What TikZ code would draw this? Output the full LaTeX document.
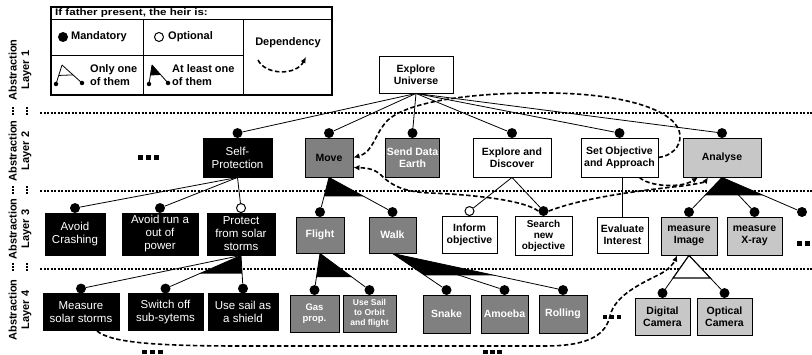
\documentclass[tikz,border=0pt]{standalone}
\usepackage{fontspec}
\setmainfont{Liberation Sans}
\usepackage{graphicx}
\usetikzlibrary{calc,arrows.meta}
\definecolor{darkfill}{gray}{0.50}
\definecolor{lightfill}{gray}{0.78}
\begin{document}
\begin{tikzpicture}[x=1pt,y=-1pt,
  nbox/.style={draw, line width=0.9pt, align=center, inner sep=1pt},
  wbox/.style={nbox, fill=white, font=\bfseries\fontsize{10.5}{12}\selectfont},
  dbox/.style={nbox, fill=darkfill, text=white, font=\bfseries\fontsize{10.5}{12}\selectfont},
  lbox/.style={nbox, fill=lightfill, text=black, font=\bfseries\fontsize{10.5}{12}\selectfont},
  bbox/.style={nbox, fill=black, text=white, font=\fontsize{11.5}{13}\selectfont},
  man/.style={circle, fill=black, inner sep=0pt, minimum size=10pt},
  opt/.style={circle, draw, fill=white, line width=1pt, inner sep=0pt, minimum size=9pt},
  tinydot/.style={circle, fill=black, inner sep=0pt, minimum size=4.5pt},
  link/.style={line width=0.8pt},
  dep/.style={line width=1.6pt, dash pattern=on 4.5pt off 2.5pt, -{Latex[length=6pt,width=5.5pt]}},
  layersep/.style={line width=2.2pt, dash pattern=on 2.2pt off 1.3pt},
  lgd/.style={font=\bfseries\fontsize{11}{13}\selectfont, inner sep=0pt},
  layerlabel/.style={rotate=90, align=center, font=\bfseries\fontsize{11}{12.5}\selectfont, inner sep=0pt},
]
\useasboundingbox (0,0) rectangle (812,355);
\fill[white] (0,0) rectangle (812,355);

% ---------- legend ----------
\draw[line width=1.1pt] (51,7) rectangle (332,95);
\draw[line width=1pt] (51,20) -- (332,20) (143,20) -- (143,95) (243,20) -- (243,95) (51,56) -- (243,56);
\node[anchor=west, font=\bfseries\fontsize{9.5}{11}\selectfont, inner sep=0pt] (lghead) at (55,13.5) {\scalebox{1.22}[1]{If father present, the heir is:}};
\node[man] (lgman) at (63,37) {};
\node[lgd, anchor=west] (lgmantxt) at (71,37) {Mandatory};
\node[opt] (lgopt) at (159,37) {};
\node[lgd, anchor=west] (lgopttxt) at (168,37) {Optional};
\node[lgd] (lgdep) at (288,43) {Dependency};
\coordinate (lgdepa) at (258,60);
\coordinate (lgdepb) at (306,57);
\draw[dep] (lgdepa) .. controls (265,75) and (296,76) .. (lgdepb);

% only one of them
\coordinate (lgonetop) at (62,65);
\node[tinydot] (lgonel) at (56,84) {};
\node[tinydot] (lgoner) at (82,83) {};
\draw[link] (lgonetop) -- (lgonel.center) (lgonetop) -- (lgoner.center);
\draw[link] ($(lgonetop)!0.55!(lgonel)$) -- ($(lgonetop)!0.55!(lgoner)$);
\node[lgd, anchor=west, align=left] (lgonetxt) at (90,75) {Only one\\of them};

% at least one of them
\coordinate (lgalotop) at (152,65);
\node[tinydot] (lgalol) at (149,84) {};
\node[tinydot] (lgalor) at (168,83) {};
\draw[link] (lgalotop) -- (lgalol.center) (lgalotop) -- (lgalor.center);
\fill (lgalotop) -- ($(lgalotop)!0.55!(lgalol)$) -- ($(lgalotop)!0.55!(lgalor)$) -- cycle;
\node[lgd, anchor=west, align=left] (lgalotxt) at (172,75) {At least one\\of them};

% ---------- layer labels and separators ----------
\node[layerlabel] (lab1) at (20,70) {Abstraction\\Layer 1};
\node[layerlabel] (lab2) at (20,151) {Abstraction\\Layer 2};
\node[layerlabel] (lab3) at (20,229) {Abstraction\\Layer 3};
\node[layerlabel] (lab4) at (20,310) {Abstraction\\Layer 4};
\foreach \yy in {111,190,267}{
  \draw[line width=1.6pt, dash pattern=on 1.6pt off 1.6pt] (13,\yy-4) -- (13,\yy+5);
  \draw[line width=1.6pt, dash pattern=on 1.6pt off 1.6pt] (27,\yy-4) -- (27,\yy+5);
}
\foreach \yy in {113,191,269}
  \draw[layersep] (40,\yy) -- (812,\yy);

% ---------- layer 1 ----------
\node[wbox, minimum width=74pt, minimum height=37pt] (eu) at (416,74.5) {Explore\\Universe};

% ---------- layer 2 ----------
\node[bbox, minimum width=69pt, minimum height=39pt] (selfp) at (237.5,157.5) {Self-\\Protection};
\node[dbox, text=black, minimum width=48pt, minimum height=39pt] (move) at (329,157.5) {Move};
\node[dbox, minimum width=53pt, minimum height=39pt] (send) at (412.5,157.5) {Send Data\\Earth};
\node[wbox, minimum width=78pt, minimum height=39pt] (explore) at (512,157.5) {Explore and\\Discover};
\node[wbox, minimum width=77pt, minimum height=39pt] (setobj) at (619.5,157.5) {Set Objective\\and Approach};
\node[lbox, minimum width=78pt, minimum height=39pt] (analyse) at (722,157.5) {Analyse};

% ---------- layer 3 ----------
\node[bbox, minimum width=60pt, minimum height=42pt] (avoidc) at (75,234) {Avoid\\Crashing};
\node[bbox, minimum width=76pt, minimum height=42pt] (avoidr) at (160,234) {Avoid run a\\out of\\power};
\node[bbox, minimum width=68pt, minimum height=42pt] (protect) at (241,234) {Protect\\from solar\\storms};
\node[dbox, minimum width=48pt, minimum height=36pt] (flight) at (320,235) {Flight};
\node[dbox, minimum width=47pt, minimum height=36pt] (walk) at (392.5,235) {Walk};
\node[wbox, minimum width=55pt, minimum height=37pt] (inform) at (469.5,234.5) {Inform\\objective};
\node[wbox, minimum width=57pt, minimum height=39pt, font=\bfseries\fontsize{10}{11}\selectfont] (search) at (543.5,235.5) {Search\\new\\objective};
\node[wbox, minimum width=51pt, minimum height=36pt] (evalint) at (622.5,235) {Evaluate\\Interest};
\node[lbox, minimum width=56pt, minimum height=38pt] (mimage) at (689,236) {measure\\Image};
\node[lbox, minimum width=55pt, minimum height=38pt] (xray) at (754.5,236) {measure\\X-ray};

% ---------- layer 4 ----------
\node[bbox, minimum width=76pt, minimum height=37pt] (meas) at (81,312) {Measure\\solar storms};
\node[bbox, minimum width=75pt, minimum height=37pt] (switch) at (165.5,312) {Switch off\\sub-sytems};
\node[bbox, minimum width=70pt, minimum height=37pt] (usesail) at (243,312) {Use sail as\\a shield};
\node[dbox, minimum width=49pt, minimum height=37pt, font=\bfseries\fontsize{9.5}{11}\selectfont] (gas) at (314.5,313.5) {Gas\\prop.};
\node[dbox, minimum width=53pt, minimum height=37pt, font=\bfseries\fontsize{8.5}{10}\selectfont] (orbit) at (369.5,313.5) {Use Sail\\to Orbit\\and flight};
\node[dbox, minimum width=47pt, minimum height=38pt] (snake) at (446.5,314) {Snake};
\node[dbox, minimum width=47pt, minimum height=38pt] (amoeba) at (504.5,314) {Amoeba};
\node[dbox, minimum width=48pt, minimum height=38pt] (rolling) at (563,314) {Rolling};
\node[lbox, minimum width=55pt, minimum height=37pt] (digital) at (662.5,316.5) {Digital\\Camera};
\node[lbox, minimum width=55pt, minimum height=37pt] (optical) at (724.5,316.5) {Optical\\Camera};

% ---------- feature markers ----------
\foreach \b in {selfp,move,send,explore,setobj,analyse,avoidc,avoidr,flight,walk,search,mimage,xray,meas,switch,usesail,gas,orbit,snake,amoeba,rolling,digital,optical}
  \node[man] (c-\b) at ([yshift=4.5pt]\b.north) {};
\node[opt] (c-protect) at ([yshift=4.5pt]protect.north) {};
\node[opt] (c-inform) at ([yshift=4.5pt]inform.north) {};
\node[man] (c-extra) at (802,212) {};

% ---------- decomposition links ----------
\foreach \c in {selfp,move,send,explore,setobj,analyse}
  \draw[link] (eu.south) -- (c-\c);
\foreach \c in {avoidc,avoidr,protect}
  \draw[link] (selfp.south) -- (c-\c);
\foreach \c in {flight,walk}
  \draw[link] (move.south) -- (c-\c);
\foreach \c in {inform,search}
  \draw[link] (explore.south) -- (c-\c);
\draw[link] (setobj.south -| evalint.north) -- (evalint.north);
\foreach \c in {mimage,xray,extra}
  \draw[link] (analyse.south) -- (c-\c);
\foreach \c in {meas,switch,usesail}
  \draw[link] (protect.south) -- (c-\c);
\foreach \c in {gas,orbit}
  \draw[link] (flight.south) -- (c-\c);
\foreach \c in {snake,amoeba,rolling}
  \draw[link] (walk.south) -- (c-\c);
\foreach \c in {digital,optical}
  \draw[link] (mimage.south) -- (c-\c);

% at-least-one groups
\fill (move.south) -- ($(move.south)!0.55!(c-flight)$) -- ($(move.south)!0.55!(c-walk)$) -- cycle;
\fill (analyse.south) -- ($(analyse.south)!0.52!(c-mimage)$) -- ($(analyse.south)!0.52!(c-extra)$) -- cycle;
\fill (flight.south) -- ($(flight.south)!0.65!(c-gas)$) -- ($(flight.south)!0.65!(c-orbit)$) -- cycle;
\fill (walk.south) -- ($(walk.south)!0.6!(c-snake)$) -- ($(walk.south)!0.6!(c-rolling)$) -- cycle;
\fill (protect.south) -- ($(protect.south)!0.55!(c-switch)$) -- ($(protect.south)!0.55!(c-usesail)$) -- cycle;
% only-one group
\draw[line width=1.1pt, fill=white] (mimage.south) -- ($(mimage.south)!0.6!(c-digital)$) -- ($(mimage.south)!0.6!(c-optical)$) -- cycle;

% ---------- dependencies ----------
\draw[dep] (setobj.east) .. controls (671,156) and (681,147) .. (680,135)
  .. controls (678,112) and (630,94) .. (550,93)
  .. controls (470,92) and (408,102) .. (388,120)
  .. controls (374,134) and (374,152) .. (move.east);
\draw[dep] (c-search.west) .. controls (525,201) and (480,195) .. (430,193)
  .. controls (405,192) and (392,186) .. (382,176)
  .. controls (375,169) and (368,168) .. ([yshift=-10pt]move.east);
\draw[dep] (c-search.east) .. controls (585,197) and (645,190) .. (682,186)
  .. controls (697,184) and (705,182) .. ([xshift=-14pt]analyse.south);
\draw[dep] ([xshift=20pt]setobj.south) .. controls (648,186) and (680,189) .. ([xshift=-24pt]analyse.south);
\draw[dep] ([xshift=16pt]meas.south) .. controls (110,342) and (150,346) .. (240,346)
  -- (545,346) .. controls (592,346) and (606,333) .. (610,316)
  .. controls (615,294) and (645,282) .. (662,273)
  .. controls (670,268) and (674,263) .. ([xshift=-12pt]mimage.south);

% ---------- omitted siblings ----------
\foreach \x in {138,146,154} \fill (\x,155.5) rectangle ++(5,5);
\foreach \x in {797,805} \fill (\x,241) rectangle ++(5,5);
\foreach \x in {603,610,617} \fill (\x,315) rectangle ++(4,4);
\foreach \x in {142,150,158} \fill (\x,350) rectangle ++(4.5,4.5);
\foreach \x in {483,490,497} \fill (\x,350) rectangle ++(4.5,4.5);
\end{tikzpicture}
\end{document}
